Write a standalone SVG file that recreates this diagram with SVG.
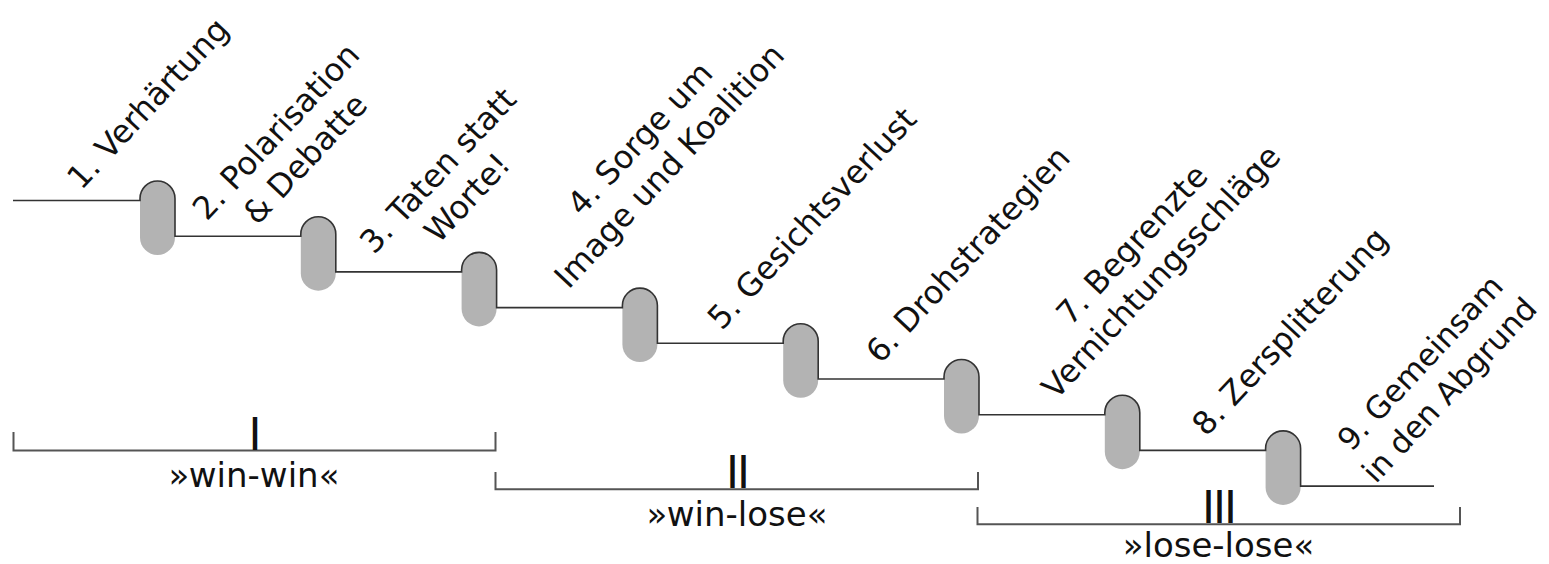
<svg xmlns="http://www.w3.org/2000/svg" width="1549" height="564" viewBox="0 0 1549 564">
  <style>
    .cap { fill: #b3b3b3; stroke: none; }
    .stair { fill: none; stroke: #333; stroke-width: 1.6; }
    .bracket { fill: none; stroke: #555; stroke-width: 2; }
    .lbl { font-family: "DejaVu Sans", "Liberation Sans", sans-serif; font-size: 32px; fill: #111; text-anchor: middle; }
    .phase { font-family: "DejaVu Sans", "Liberation Sans", sans-serif; font-size: 34px; fill: #111; text-anchor: middle; }
    .roman { font-family: "DejaVu Sans", "Liberation Sans", sans-serif; font-size: 44px; fill: #111; text-anchor: middle; letter-spacing: -2px; }
  </style>

  <!-- escalation steps: capsule + slanted caption -->
  <g id="step1">
    <rect class="cap" x="140" y="181" width="35" height="74" rx="17.5"/>
    <text class="lbl" transform="translate(156,111) rotate(-47)">1. Verhärtung</text>
  </g>
  <g id="step2">
    <rect class="cap" x="300.8" y="216.7" width="35" height="74" rx="17.5"/>
    <text class="lbl" transform="translate(284,139) rotate(-47)"><tspan x="0" y="0">2. Polarisation</tspan><tspan x="0" y="40">&amp; Debatte</tspan></text>
  </g>
  <g id="step3">
    <rect class="cap" x="461.6" y="252.4" width="35" height="74" rx="17.5"/>
    <text class="lbl" transform="translate(446,178) rotate(-47)"><tspan x="0" y="0">3. Taten statt</tspan><tspan x="0" y="40">Worte!</tspan></text>
  </g>
  <g id="step4">
    <rect class="cap" x="622.4" y="288.1" width="35" height="74" rx="17.5"/>
    <text class="lbl" transform="translate(648,146) rotate(-47)"><tspan x="0" y="0">4. Sorge um</tspan><tspan x="0" y="40">Image und Koalition</tspan></text>
  </g>
  <g id="step5">
    <rect class="cap" x="783.2" y="323.8" width="35" height="74" rx="17.5"/>
    <text class="lbl" transform="translate(820,226) rotate(-47)">5. Gesichtsverlust</text>
  </g>
  <g id="step6">
    <rect class="cap" x="944" y="359.5" width="35" height="74" rx="17.5"/>
    <text class="lbl" transform="translate(976,262) rotate(-47)">6. Drohstrategien</text>
  </g>
  <g id="step7">
    <rect class="cap" x="1104.8" y="395.2" width="35" height="74" rx="17.5"/>
    <text class="lbl" transform="translate(1140,252) rotate(-47)"><tspan x="0" y="0">7. Begrenzte</tspan><tspan x="0" y="40">Vernichtungsschläge</tspan></text>
  </g>
  <g id="step8">
    <rect class="cap" x="1265.6" y="430.9" width="35" height="74" rx="17.5"/>
    <text class="lbl" transform="translate(1298,339) rotate(-47)">8. Zersplitterung</text>
  </g>
  <g id="step9">
    <text class="lbl" style="font-size:31px" transform="translate(1428,370) rotate(-47)"><tspan x="0" y="0">9. Gemeinsam</tspan><tspan x="0" y="40">in den Abgrund</tspan></text>
  </g>

  <!-- staircase line running over the capsules -->
  <g id="connectors">
    <path class="stair" d="M13,200.5 H140 V198.5 A17.5,17.5 0 0 1 175,198.5 V236.2
      H300.8 V234.2 A17.5,17.5 0 0 1 335.8,234.2 V271.9
      H461.6 V269.9 A17.5,17.5 0 0 1 496.6,269.9 V307.6
      H622.4 V305.6 A17.5,17.5 0 0 1 657.4,305.6 V343.3
      H783.2 V341.3 A17.5,17.5 0 0 1 818.2,341.3 V379
      H944 V377 A17.5,17.5 0 0 1 979,377 V414.7
      H1104.8 V412.7 A17.5,17.5 0 0 1 1139.8,412.7 V450.4
      H1265.6 V448.4 A17.5,17.5 0 0 1 1300.6,448.4 V486.1 H1434"/>
  </g>

  <!-- phase brackets -->
  <g id="phase1">
    <path class="bracket" d="M13.5,432 V450.5 H495.5 V432"/>
    <text class="roman" x="254" y="450">I</text>
    <text class="phase" x="254" y="487">»win-win«</text>
  </g>
  <g id="phase2">
    <path class="bracket" d="M495.5,472 V489.3 H978 V472"/>
    <text class="roman" x="737" y="487.5">II</text>
    <text class="phase" x="737" y="526">»win-lose«</text>
  </g>
  <g id="phase3">
    <path class="bracket" d="M977.5,507 V524.3 H1460 V507"/>
    <text class="roman" x="1218.5" y="522.5">III</text>
    <text class="phase" x="1218.5" y="557">»lose-lose«</text>
  </g>
</svg>
